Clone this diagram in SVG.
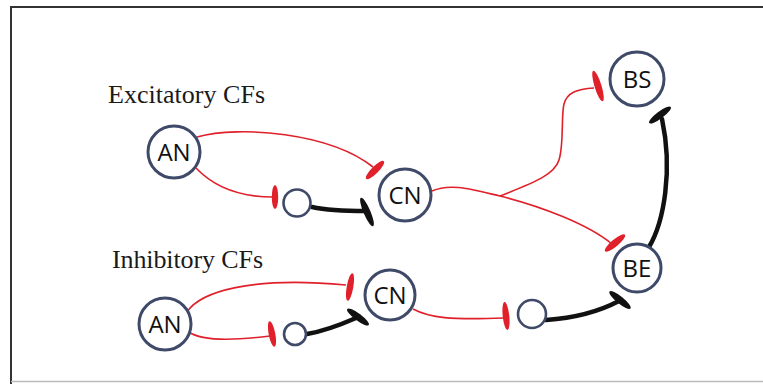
<svg xmlns="http://www.w3.org/2000/svg" width="763" height="384" viewBox="0 0 763 384">
<defs>
<style>
.node{fill:#fff;stroke:#3f4a69;stroke-width:3}
.sm{fill:#fff;stroke:#3f4a69;stroke-width:2.6}
.lbl{font-family:"Open Sans","Noto Sans",sans-serif;font-size:24px;fill:#111;text-anchor:middle}
.title{font-family:"Liberation Serif","Times New Roman",serif;font-size:26px;fill:#1a1a1a}
.r{fill:none;stroke:#e0202a;stroke-width:1.6}
.k{fill:none;stroke:#111;stroke-width:4.5;stroke-linecap:round}
.rb{fill:#e0202a}
.kb{fill:#111}
</style>
</defs>
<rect width="763" height="384" fill="#fff"/>
<path d="M11,384 V7 H763" fill="none" stroke="#333" stroke-width="2"/>
<line x1="11" y1="381.5" x2="763" y2="381.5" stroke="#bbb" stroke-width="1.5"/>

<text class="title" x="108" y="103" textLength="157">Excitatory CFs</text>
<text class="title" x="112" y="268" textLength="151">Inhibitory CFs</text>

<g id="connectors">
<path class="r" d="M197,137 C240,125 330,133 373,167"/>
<path class="r" d="M196,168 C215,188 240,197 273,197"/>
<path class="k" d="M312,207 C330,211 350,211 366,211"/>
<path class="r" d="M432,191 C450,183 470,189 500,196 C540,206 588,224 612,244"/>
<path class="r" d="M500,196 C530,184 554,176 559,160 C564,145 561,115 564,104 C567,93 576,89 594,88"/>
<path class="k" d="M649,247 C664,222 673,170 662,119"/>
<path class="r" d="M187,312 C200,292 250,276 346,285"/>
<path class="r" d="M189,332 C200,340 230,341 270,336"/>
<path class="k" d="M307,334 C325,331 340,325 356,318"/>
<path class="r" d="M413,309 C430,318 450,320 504,318"/>
<path class="k" d="M546,320 C575,318 600,311 619,301"/>
<ellipse class="rb" cx="375" cy="170" rx="3.5" ry="12.5" transform="rotate(45 375 170)"/>
<ellipse class="rb" cx="275" cy="197" rx="3.2" ry="12"/>
<ellipse class="kb" cx="367" cy="212" rx="3.5" ry="15.5" transform="rotate(-23 367 212)"/>
<ellipse class="rb" cx="598" cy="86" rx="3.5" ry="16" transform="rotate(-17 598 86)"/>
<ellipse class="kb" cx="660" cy="115" rx="13.5" ry="3.5" transform="rotate(-37 660 115)"/>
<ellipse class="rb" cx="615" cy="243" rx="13" ry="3.5" transform="rotate(-40 615 243)"/>
<ellipse class="kb" cx="620" cy="300" rx="13.5" ry="3.5" transform="rotate(39 620 300)"/>
<ellipse class="rb" cx="506" cy="316" rx="3.3" ry="14" transform="rotate(-6 506 316)"/>
<ellipse class="rb" cx="350" cy="287" rx="3.3" ry="14" transform="rotate(10 350 287)"/>
<ellipse class="rb" cx="272" cy="334" rx="3.3" ry="13" transform="rotate(-11 272 334)"/>
<ellipse class="kb" cx="358" cy="317" rx="13.5" ry="3.5" transform="rotate(37 358 317)"/>
</g>

<g id="an-exc"><circle class="node" cx="174" cy="152" r="26"/><text class="lbl" x="174" y="160.5">AN</text></g>
<g id="cn-exc"><circle class="node" cx="405" cy="195" r="26"/><text class="lbl" x="405" y="203.5">CN</text></g>
<g id="int-exc"><circle class="sm" cx="297" cy="203" r="13.5"/></g>
<g id="bs"><circle class="node" cx="637" cy="79" r="27"/><text class="lbl" x="637" y="87.5">BS</text></g>
<g id="be"><circle class="node" cx="637" cy="268" r="24"/><text class="lbl" x="637" y="276.5">BE</text></g>
<g id="an-inh"><circle class="node" cx="165" cy="324" r="26"/><text class="lbl" x="165" y="332.5">AN</text></g>
<g id="cn-inh"><circle class="node" cx="390" cy="295" r="25"/><text class="lbl" x="390" y="303.5">CN</text></g>
<g id="int-inh"><circle class="sm" cx="295" cy="334" r="11"/></g>
<g id="int-right"><circle class="sm" cx="532" cy="314" r="14"/></g>
</svg>
